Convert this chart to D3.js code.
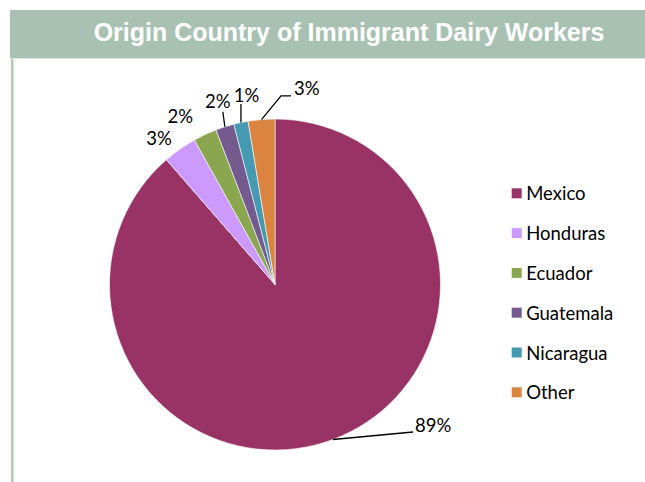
<!DOCTYPE html>
<html>
<head>
<meta charset="utf-8">
<script src="https://cdn.jsdelivr.net/npm/d3@7"></script>
<style>
  body { margin: 0; background: #fff; }
  svg { display: block; }
</style>
</head>
<body>
<div id="chart"></div>
<script>
// data (shares in percent)
var countries = ["Mexico", "Honduras", "Ecuador", "Guatemala", "Nicaragua", "Other"];
var shares = [88.6, 3.3, 2.3, 1.8, 1.4, 2.6];
var pctLabels = ["89%", "3%", "2%", "2%", "1%", "3%"];
var colors = ["#993366", "#cc99ff", "#8aa64e", "#745a8f", "#4599b1", "#db8440"];

var title = "Origin Country of Immigrant Dairy Workers";

var width = 645, height = 482;
var cx = 275, cy = 284.5, radius = 165.5;

// label placement, relative to the point on the rim at each slice's mid angle
// leader: list of [dx,dy] points after the rim point; text: [dx,dy,anchor]
var labelLayout = [
  { leader: [[80, -7.5]], text: [82, -7, "start"] },
  { leader: [], text: [-8, -4, "end"] },
  { leader: [], text: [-12, -11.5, "end"] },
  { leader: [[-2, -15]], text: [-7, -19, "middle"] },
  { leader: [[0, -18.5]], text: [5.6, -21, "middle"] },
  { leader: [[19.5, -23.6], [29.5, -23.6]], text: [32.5, -24.6, "start"] }
];

var svg = d3.select("#chart")
    .append("svg")
    .attr("width", width)
    .attr("height", height);

// header band + left rule
svg.append("rect")
    .attr("x", 10).attr("y", 10)
    .attr("width", width - 10).attr("height", 48)
    .attr("fill", "#a9c1b2");
svg.append("rect")
    .attr("x", 10).attr("y", 58)
    .attr("width", width - 10).attr("height", 1)
    .attr("fill", "#dbe6df");
svg.append("rect")
    .attr("x", 11).attr("y", 59)
    .attr("width", 2.5).attr("height", height - 59)
    .attr("fill", "#b3c9bc");

svg.append("text")
    .attr("x", 349)
    .attr("y", 41)
    .attr("text-anchor", "middle")
    .attr("fill", "#fff")
    .style("font-family", "'Liberation Sans', Arial, sans-serif")
    .style("font-weight", "bold")
    .style("font-size", "25px")
    .text(title);

var data = countries.map(function(c, i) {
  return { name: c, value: shares[i], label: pctLabels[i], color: colors[i], layout: labelLayout[i] };
});

var pie = d3.pie()
    .sort(null)
    .value(function(d) { return d.value; });

var arc = d3.arc()
    .innerRadius(0)
    .outerRadius(radius);

var arcs = pie(data);

var g = svg.append("g")
    .attr("transform", "translate(" + cx + "," + cy + ")");

g.selectAll("path.slice")
  .data(arcs)
  .enter()
    .append("path")
    .attr("class", "slice")
    .attr("d", arc)
    .attr("fill", function(d) { return d.data.color; })
    .attr("stroke", "#fff")
    .attr("stroke-width", 0.6);

// rim point at mid angle
function rim(d) {
  var a = (d.startAngle + d.endAngle) / 2;
  return [radius * Math.sin(a), -radius * Math.cos(a)];
}

var labelFont = "Lato, 'Open Sans', sans-serif";

g.selectAll("path.leader")
  .data(arcs.filter(function(d) { return d.data.layout.leader.length; }))
  .enter()
    .append("path")
    .attr("class", "leader")
    .attr("fill", "none")
    .attr("stroke", "#000")
    .attr("stroke-width", 1.3)
    .attr("d", function(d) {
      var p = rim(d);
      var pts = [p].concat(d.data.layout.leader.map(function(o) {
        return [p[0] + o[0], p[1] + o[1]];
      }));
      return d3.line()(pts);
    });

g.selectAll("text.pct")
  .data(arcs)
  .enter()
    .append("text")
    .attr("class", "pct")
    .attr("x", function(d) { return rim(d)[0] + d.data.layout.text[0]; })
    .attr("y", function(d) { return rim(d)[1] + d.data.layout.text[1]; })
    .attr("text-anchor", function(d) { return d.data.layout.text[2]; })
    .attr("fill", "#000")
    .style("font-family", labelFont)
    .style("font-size", "18.5px")
    .text(function(d) { return d.data.label; });

// legend
var legendY = d3.scalePoint()
    .domain(countries)
    .range([193.3, 392.3]);

var legend = svg.append("g")
    .selectAll("g")
    .data(data)
    .enter()
      .append("g")
      .attr("transform", function(d) { return "translate(511.7," + legendY(d.name) + ")"; });

legend.append("rect")
    .attr("x", 0).attr("y", -5)
    .attr("width", 10).attr("height", 10)
    .attr("fill", function(d) { return d.color; });

legend.append("text")
    .attr("x", 14.5)
    .attr("y", 7)
    .attr("fill", "#000")
    .style("font-family", labelFont)
    .style("font-size", "18.5px")
    .text(function(d) { return d.name; });
</script>
</body>
</html>
